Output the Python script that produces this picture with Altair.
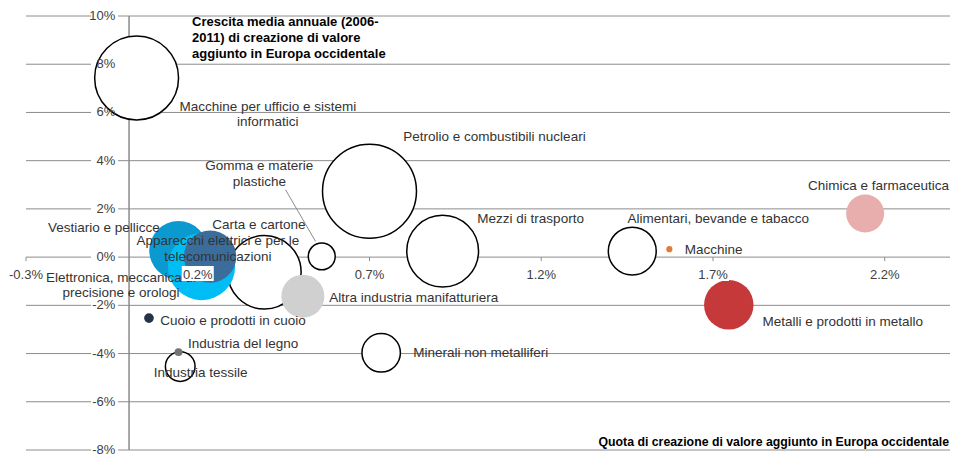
import math
import altair as alt
import pandas as pd

# ---------------- data ----------------
sectors = [
    "Carta e cartone",
    "Vestiario e pellicce",
    "Elettronica, meccanica di precisione e orologi",
    "Apparecchi elettrici e per le telecomunicazioni",
    "Gomma e materie plastiche",
    "Altra industria manifatturiera",
    "Petrolio e combustibili nucleari",
    "Mezzi di trasporto",
    "Macchine per ufficio e sistemi informatici",
    "Alimentari, bevande e tabacco",
    "Macchine",
    "Chimica e farmaceutica",
    "Metalli e prodotti in metallo",
    "Minerali non metalliferi",
    "Industria tessile",
    "Industria del legno",
    "Cuoio e prodotti in cuoio",
]
labels = [
    "Carta e cartone",
    "Vestiario e pellicce",
    "Elettronica, meccanica di\nprecisione e orologi",
    "Apparecchi elettrici e per le\ntelecomunicazioni",
    "Gomma e materie\nplastiche",
    "Altra industria manifatturiera",
    "Petrolio e combustibili nucleari",
    "Mezzi di trasporto",
    "Macchine per ufficio e sistemi\ninformatici",
    "Alimentari, bevande e tabacco",
    "Macchine",
    "Chimica e farmaceutica",
    "Metalli e prodotti in metallo",
    "Minerali non metalliferi",
    "Industria tessile",
    "Industria del legno",
    "Cuoio e prodotti in cuoio",
]
# share of value-added creation in Western Europe (%)
x_share = [0.394, 0.144, 0.211, 0.236, 0.561, 0.506, 0.700, 0.913, 0.022,
           1.465, 1.573, 2.143, 1.746, 0.734, 0.149, 0.144, 0.058]
# average annual growth 2006-2011 (%)
y_growth = [-0.63, 0.28, -0.39, 0.02, 0.03, -1.62, 2.73, 0.25, 7.43,
            0.25, 0.33, 1.81, -1.98, -3.97, -4.54, -3.94, -2.53]
# bubble magnitude
bubble = [17.2, 10.9, 14.4, 8.7, 2.3, 5.9, 28.1, 16.4, 22.4,
          7.3, 0.12, 4.6, 7.8, 4.7, 2.8, 0.2, 0.3]

x_min, x_max = -0.3, 2.39
y_min, y_max = -8, 10
x_ticks = [-0.3, 0.2, 0.7, 1.2, 1.7, 2.2]
x_tick_labels = ["-0.3%", "0.2%", "0.7%", "1.2%", "1.7%", "2.2%"]
y_ticks = [-8, -6, -4, -2, 0, 2, 4, 6, 8, 10]
y_tick_labels = ["-8%", "-6%", "-4%", "-2%", "0%", "2%", "4%", "6%", "8%", "10%"]

y_title = "Crescita media annuale (2006-\n2011) di creazione di valore\naggiunto in Europa occidentale"
x_title = "Quota di creazione di valore aggiunto in Europa occidentale"

# ---------------- styles ----------------
W = "white"
fills = [W, "#0B9AD0", "#00BDF5", "#3A6D9C", W, "#D0D0D0", W, W, W,
         W, "#E07B39", "#E8ADAD", "#C6393A", W, W, "#737373", "#243446"]
strokes = ["#000000", "transparent", "transparent", "transparent", "#000000",
           "transparent", "#000000", "#000000", "#000000", "#000000",
           "transparent", "transparent", "transparent", "#000000", "#000000",
           "transparent", "transparent"]
lab_align = ["center", "right", "center", "center", "center", "left", "left", "left",
             "center", "left", "left", "center", "left", "left", "left", "left", "left"]
lab_dx = [-5.5, -18.7, -80.5, 7.8, -62.4, 26.5, 33.8, 34.7, 131.2,
          -4.8, 15.3, 13.4, 33.7, 32.0, -26.4, 9.4, 11.3]
# vertical offset of the first text line from the bubble centre
lab_dy = [-47.2, -22.0, 11.3, -15.2, -90.0, 1.8, -54.2, -32.1, 28.6,
          -31.8, 1.0, -27.5, 17.0, 0.0, 6.6, -7.7, 2.6]

FONT = "Liberation Sans"
GRID = "#8c8c8c"
TXT = "#333333"
LAB_SIZE = 13.5

df = pd.DataFrame({
    "sector": sectors,
    "label": labels,
    "x": x_share,
    "y": y_growth,
    "b": bubble,
})
gx = pd.DataFrame({"v": x_ticks, "t": x_tick_labels, "zero": [0] * len(x_ticks)})
gy = pd.DataFrame({"v": y_ticks, "t": y_tick_labels, "zero": [0] * len(y_ticks),
                   "x0": [x_min] * len(y_ticks), "x1": [x_max] * len(y_ticks)})
axis_df = pd.DataFrame({"zero": [0], "y0": [y_min], "y1": [y_max]})
titles_df = pd.DataFrame({"t": [y_title, x_title], "x": [0, x_max], "y": [y_max, y_min]})

xs = alt.Scale(domain=[x_min, x_max], nice=False, zero=False)
ys = alt.Scale(domain=[y_min, y_max], nice=False, zero=False)
X = alt.X("x:Q", scale=xs, axis=None)
Y = alt.Y("y:Q", scale=ys, axis=None)

grid = alt.Chart(gy).mark_rule(color=GRID, strokeWidth=1).encode(
    y=alt.Y("v:Q", scale=ys, axis=None),
    x=alt.X("x0:Q", scale=xs, axis=None), x2="x1:Q",
)
ybox = alt.Chart(gy).mark_rect(color="white", xOffset=-38, x2Offset=-11,
                               yOffset=-7, y2Offset=7).encode(
    y=alt.Y("v:Q", scale=ys, axis=None), y2="v:Q",
    x=alt.X("zero:Q", scale=xs, axis=None), x2="zero:Q",
)
yaxis = alt.Chart(axis_df).mark_rule(color="#8a8a8a", strokeWidth=1.5).encode(
    x=alt.X("zero:Q", scale=xs, axis=None),
    y=alt.Y("y0:Q", scale=ys, axis=None), y2="y1:Q",
)
xticks = alt.Chart(gx).mark_rule(color=GRID, strokeWidth=1, y2Offset=4).encode(
    x=alt.X("v:Q", scale=xs, axis=None),
    y=alt.Y("zero:Q", scale=ys, axis=None), y2="zero:Q",
)

bubbles = alt.Chart(df).mark_circle(opacity=1, strokeWidth=1.5).encode(
    x=X, y=Y,
    size=alt.Size("b:Q", scale=alt.Scale(domain=[0, 30], range=[0, 3000 * math.pi]), legend=None),
    fill=alt.Fill("sector:N", scale=alt.Scale(domain=sectors, range=fills), legend=None),
    stroke=alt.Stroke("sector:N", scale=alt.Scale(domain=sectors, range=strokes), legend=None),
)

leader = alt.Chart(df).transform_filter(
    alt.datum.sector == "Gomma e materie plastiche"
).mark_rule(color=GRID, strokeWidth=1, xOffset=-36.2, yOffset=-66.6,
            x2Offset=-6.2, y2Offset=-15).encode(x=X, y=Y, x2="x:Q", y2="y:Q")

label_layers = []
for i, s in enumerate(sectors):
    label_layers.append(
        alt.Chart(df).transform_filter(alt.datum.sector == s).mark_text(
            align=lab_align[i], baseline="middle", dx=lab_dx[i], dy=lab_dy[i],
            lineBreak="\n", lineHeight=15.5, font=FONT, fontSize=LAB_SIZE, color=TXT,
        ).encode(x=X, y=Y, text="label:N")
    )

ylabels = alt.Chart(gy).mark_text(align="right", baseline="middle", dx=-13.7,
                                  font=FONT, fontSize=13, color="#404040").encode(
    y=alt.Y("v:Q", scale=ys, axis=None), x=alt.X("zero:Q", scale=xs, axis=None), text="t:N"
)
xbox = alt.Chart(gx).mark_rect(color="white", xOffset=-16, x2Offset=16,
                               yOffset=9, y2Offset=24).encode(
    x=alt.X("v:Q", scale=xs, axis=None), x2="v:Q",
    y=alt.Y("zero:Q", scale=ys, axis=None), y2="zero:Q",
)
xlabels = alt.Chart(gx).mark_text(align="center", baseline="middle", dy=17.7,
                                  font=FONT, fontSize=13, color="#404040").encode(
    x=alt.X("v:Q", scale=xs, axis=None), y=alt.Y("zero:Q", scale=ys, axis=None), text="t:N"
)
ytitle = alt.Chart(titles_df).transform_filter(alt.datum.x == 0).mark_text(
    align="left", baseline="middle", dx=63.0, dy=6, lineBreak="\n", lineHeight=15.8,
    font=FONT, fontSize=13, fontWeight="bold", color="#000000",
).encode(x=X, y=Y, text="t:N")
xtitle = alt.Chart(titles_df).transform_filter(alt.datum.x != 0).mark_text(
    align="right", baseline="middle", dx=-1, dy=-8,
    font=FONT, fontSize=12.3, fontWeight="bold", color="#000000",
).encode(x=X, y=Y, text="t:N")

chart = alt.layer(
    grid, ybox, yaxis, xticks, bubbles, leader, *label_layers,
    ylabels, xbox, xlabels, ytitle, xtitle,
).properties(
    width=924, height=434,
    autosize=alt.AutoSizeParams(type="none"),
    padding={"left": 18, "top": 8, "right": 0, "bottom": 7},
    background="white",
).configure_view(strokeWidth=0)

chart.save("out.html", embed_options={"renderer": "svg", "actions": False})
